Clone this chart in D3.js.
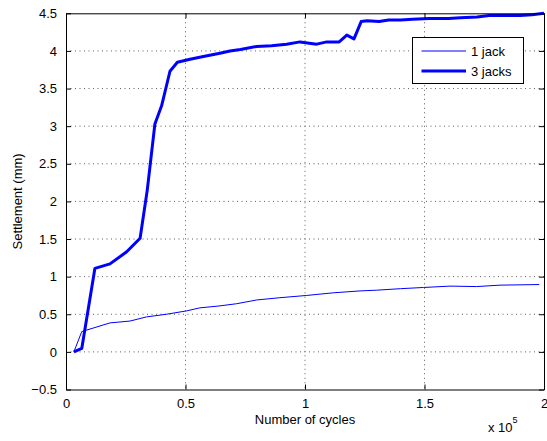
<!DOCTYPE html>
<html><head><meta charset="utf-8">
<script src="https://cdn.jsdelivr.net/npm/d3@7"></script>
<style>body{margin:0;background:#fff}svg{display:block}text{font-family:"Liberation Sans",Arial,Helvetica,sans-serif;}</style>
</head><body>
<svg id="c" width="547" height="441"></svg>
<script>
const seriesNames = ["1 jack", "3 jacks"];
const jack1X = [3300, 6600, 18400, 26800, 33700, 42000, 50500, 56000, 64000, 71400, 79800, 89500, 100700, 111800, 123000, 130000, 140000, 149600, 160700, 171800, 181600, 198000];
const jack1Y = [0.0, 0.27, 0.385, 0.41, 0.465, 0.50, 0.545, 0.585, 0.61, 0.64, 0.69, 0.72, 0.75, 0.785, 0.81, 0.82, 0.84, 0.856, 0.874, 0.868, 0.887, 0.895];
const jack3X = [3300, 6600, 12100, 18400, 25400, 31000, 34000, 37200, 40000, 43500, 46600, 51900, 58000, 64400, 68600, 73000, 79800, 86000, 92300, 97900, 104900, 109100, 114300, 117500, 120500, 123500, 126000, 131000, 135000, 140000, 145000, 152000, 160000, 165000, 172000, 177000, 185000, 190000, 195000, 200000];
const jack3Y = [0.0, 0.045, 1.11, 1.17, 1.33, 1.51, 2.15, 3.03, 3.27, 3.73, 3.85, 3.89, 3.93, 3.97, 4.00, 4.02, 4.06, 4.07, 4.09, 4.12, 4.09, 4.12, 4.12, 4.21, 4.16, 4.39, 4.40, 4.39, 4.41, 4.41, 4.42, 4.43, 4.43, 4.44, 4.45, 4.47, 4.47, 4.47, 4.48, 4.50];
const xTicks = [0, 50000, 100000, 150000, 200000];
const xTickLabels = ["0", "0.5", "1", "1.5", "2"];
const yTicks = [-0.5, 0, 0.5, 1, 1.5, 2, 2.5, 3, 3.5, 4, 4.5];
const yTickLabels = ["\u22120.5", "0", "0.5", "1", "1.5", "2", "2.5", "3", "3.5", "4", "4.5"];

const svg = d3.select("#c");
const L = 66, R = 544, T = 13.3, B = 389.5;
const x = d3.scaleLinear().domain([0, 200000]).range([L, R]);
const y = d3.scaleLinear().domain([-0.5, 4.5]).range([B, T]);

// grid
const g = svg.append("g");
g.selectAll(".gx").data(xTicks.slice(1, -1)).enter().append("line")
  .attr("x1", d => x(d)).attr("x2", d => x(d)).attr("y1", T).attr("y2", B)
  .attr("stroke", "#333").attr("stroke-width", 0.8).attr("stroke-dasharray", "1,3.5");
g.selectAll(".gy").data(yTicks.slice(1, -1)).enter().append("line")
  .attr("y1", d => y(d)).attr("y2", d => y(d)).attr("x1", L).attr("x2", R)
  .attr("stroke", "#333").attr("stroke-width", 0.8).attr("stroke-dasharray", "1,3.5");

// lines
const line = d3.line().x(d => x(d[0])).y(d => y(d[1]));
svg.append("path").datum(jack1X.map((v, i) => [v, jack1Y[i]]))
  .attr("d", line).attr("fill", "none").attr("stroke", "#0000ff").attr("stroke-width", 1);
svg.append("path").datum(jack3X.map((v, i) => [v, jack3Y[i]]))
  .attr("d", line).attr("fill", "none").attr("stroke", "#0000ff").attr("stroke-width", 3).attr("stroke-linejoin", "round");

// axes
const tickLen = 5;
const axB = svg.append("g").attr("transform", `translate(0,${B})`)
  .call(d3.axisBottom(x).tickValues(xTicks).tickSizeInner(-tickLen).tickSizeOuter(0).tickPadding(9).tickFormat((d, i) => xTickLabels[i]));
const axT = svg.append("g").attr("transform", `translate(0,${T})`)
  .call(d3.axisTop(x).tickValues(xTicks).tickSizeInner(-tickLen).tickSizeOuter(0).tickFormat(""));
const axL = svg.append("g").attr("transform", `translate(${L},0)`)
  .call(d3.axisLeft(y).tickValues(yTicks).tickSizeInner(-tickLen).tickSizeOuter(0).tickPadding(9).tickFormat((d, i) => yTickLabels[i]));
const axR = svg.append("g").attr("transform", `translate(${R},0)`)
  .call(d3.axisRight(y).tickValues(yTicks).tickSizeInner(-tickLen).tickSizeOuter(0).tickFormat(""));
[axB, axT, axL, axR].forEach(a => {
  a.selectAll("path.domain").attr("stroke", "#000").attr("stroke-width", 1);
  a.selectAll("line").attr("stroke", "#000");
  a.selectAll("text").attr("font-size", 13).attr("fill", "#000").attr("font-family", '"Liberation Sans",Arial,sans-serif');
});

// labels
svg.append("text").attr("x", (L + R) / 2).attr("y", 424).attr("text-anchor", "middle")
  .attr("font-size", 13).text("Number of cycles");
svg.append("text").attr("transform", `translate(22,${(T + B) / 2}) rotate(-90)`).attr("text-anchor", "middle")
  .attr("font-size", 13).text("Settlement (mm)");
const ex = svg.append("text").attr("x", 488).attr("y", 432).attr("font-size", 13);
ex.append("tspan").text("x 10");
ex.append("tspan").attr("dy", -9).attr("font-size", 9).text("5");

// legend
const lg = svg.append("g");
lg.append("rect").attr("x", 412.5).attr("y", 37.5).attr("width", 111).attr("height", 46)
  .attr("fill", "#fff").attr("stroke", "#000").attr("stroke-width", 1);
const widths = [1, 3];
seriesNames.forEach((n, i) => {
  const yy = 51 + i * 20;
  lg.append("line").attr("x1", 421.5).attr("x2", 466).attr("y1", yy).attr("y2", yy)
    .attr("stroke", "#0000ff").attr("stroke-width", widths[i]);
  lg.append("text").attr("x", 471).attr("y", yy + 4.5).attr("font-size", 13).text(n);
});
</script>
</body></html>
